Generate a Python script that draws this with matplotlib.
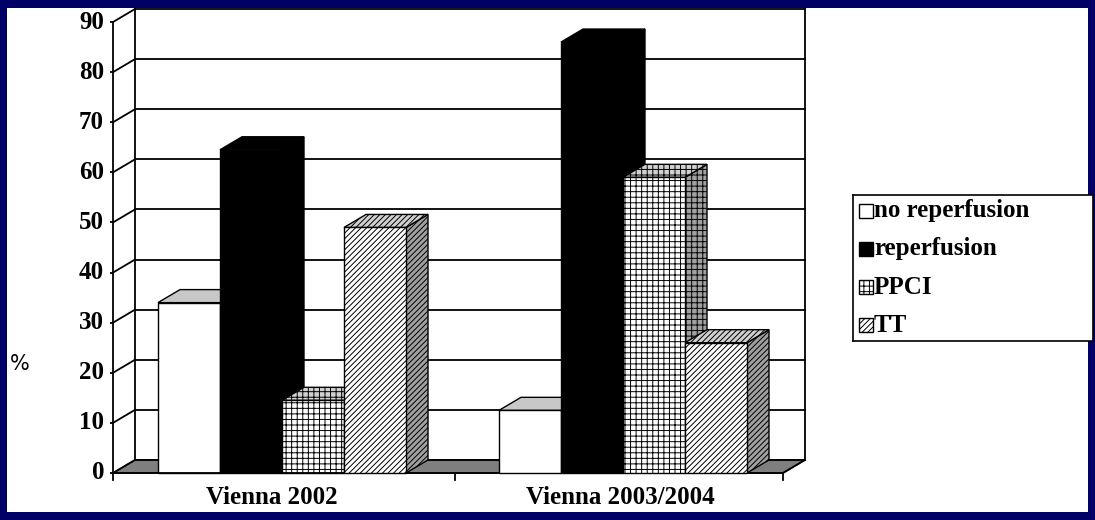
import matplotlib
matplotlib.use("Agg")
import matplotlib.pyplot as plt
from matplotlib.patches import Polygon, Rectangle

categories = ["Vienna 2002", "Vienna 2003/2004"]
series = ["no reperfusion", "reperfusion", "PPCI", "TT"]
values = {
    "no reperfusion": [34, 12.5],
    "reperfusion": [64.5, 86],
    "PPCI": [14.5, 59],
    "TT": [49, 26],
}
yticks = [0, 10, 20, 30, 40, 50, 60, 70, 80, 90]

plt.rcParams["hatch.linewidth"] = 0.7
NAVY = "#000066"
W, H = 1095, 520
fig = plt.figure(figsize=(10.95, 5.2), dpi=100, facecolor=NAVY)
bg = fig.add_axes([7/W, 8/H, (W-14)/W, (H-16)/H])
bg.set_facecolor("white"); bg.set_xticks([]); bg.set_yticks([])
for s in bg.spines.values():
    s.set_visible(False)

ax = fig.add_axes([110/W, (H-478)/H, 712/W, 470/H])
ax.set_facecolor("none")
for s in ax.spines.values():
    s.set_visible(False)
ax.set_xlim(110, 822)
ax.set_ylim(-1, 92.8)

DX, DY = 22, 2.6
X0, X1 = 113, 783
ax.add_patch(Polygon([(X0, 0), (X1, 0), (X1+DX, DY), (X0+DX, DY)], closed=True,
                     facecolor="#7f7f7f", edgecolor="black", lw=1, zorder=1))
for v in yticks:
    ax.plot([X0+DX, X1+DX], [v+DY, v+DY], color="black", lw=1.3, zorder=1, clip_on=False)
    ax.plot([X0, X0+DX], [v, v+DY], color="black", lw=1.3, zorder=1, clip_on=False)
ax.plot([X0+DX, X0+DX], [DY, 90+DY], color="black", lw=1.3, zorder=1)
ax.plot([X1+DX, X1+DX], [DY, 90+DY], color="black", lw=1.3, zorder=1)
ax.plot([X0, X0], [0, 90], color="black", lw=1.3, zorder=5)
for v in yticks:
    ax.plot([X0-5, X0], [v, v], color="black", lw=1.3, zorder=5)
ax.plot([X0, X1], [0, 0], color="black", lw=1.3, zorder=5)
ax.plot([X1, X1+DX], [0, DY], color="black", lw=1.3, zorder=5)
for xt in [X0, 455, X1]:
    ax.plot([xt, xt], [0, -1.3], color="black", lw=1.3, zorder=5, clip_on=False)

styles = {
    "no reperfusion": dict(face="white", top="#c8c8c8", side="#c8c8c8", hatch=None),
    "reperfusion": dict(face="black", top="black", side="black", hatch=None),
    "PPCI": dict(face="white", top="#d0d0d0", side="#a0a0a0", hatch="+++"),
    "TT": dict(face="white", top="#d0d0d0", side="#a0a0a0", hatch="//////"),
}
group_start = [158, 499]
BW = 62
z = 2
for gi in range(len(categories)):
    for si, name in enumerate(series):
        v = values[name][gi]
        st = styles[name]
        x = group_start[gi] + si*BW
        h = st["hatch"]
        ax.add_patch(Polygon([(x+BW, 0), (x+BW+DX, DY), (x+BW+DX, v+DY), (x+BW, v)], closed=True,
                             facecolor=st["side"], edgecolor="black", lw=1, hatch=h, zorder=z))
        ax.add_patch(Polygon([(x, v), (x+BW, v), (x+BW+DX, v+DY), (x+DX, v+DY)], closed=True,
                             facecolor=st["top"], edgecolor="black", lw=1, hatch=h, zorder=z))
        ax.add_patch(Rectangle((x, 0), BW, v, facecolor=st["face"], edgecolor="black",
                               lw=1, hatch=h, zorder=z+0.5))
        z += 1

tfont = dict(family="Liberation Serif", weight="bold", size=18)
for v in yticks:
    ax.text(X0-9, v, str(v), ha="right", va="center", **tfont)
centers = [272, 620]
for c, lab in zip(centers, categories):
    ax.text(c, -2.6, lab, ha="center", va="top", clip_on=False, **tfont)
fig.text(10/W, 1-364/H, "%", ha="left", va="center", fontsize=15, family="DejaVu Sans")
ax.set_xticks([]); ax.set_yticks([])

lx, ly, lw_, lh = 853, 195, 240, 146
leg = fig.add_axes([lx/W, 1-(ly+lh)/H, lw_/W, lh/H])
leg.set_xlim(0, lw_); leg.set_ylim(lh, 0)
leg.set_xticks([]); leg.set_yticks([])
for s in leg.spines.values():
    s.set_linewidth(1.2)
for i, name in enumerate(series):
    yc = 16 + i*38
    st = styles[name]
    leg.add_patch(Rectangle((6, yc-7), 14, 14, facecolor=st["face"], edgecolor="black",
                            lw=1, hatch=st["hatch"]))
    leg.text(21, yc, name, ha="left", va="center",
             family="Liberation Serif", weight="bold", size=18)

fig.savefig("out.png", dpi=100, facecolor=NAVY)
